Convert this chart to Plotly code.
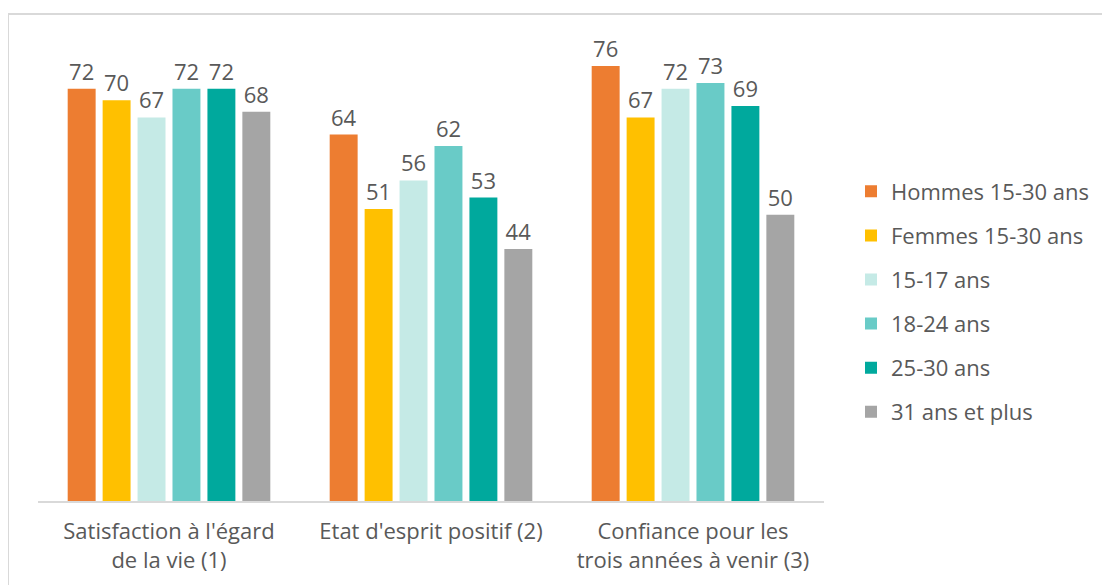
import plotly.graph_objects as go

categories = ["Satisfaction à l'égard<br>de la vie (1)", "Etat d'esprit positif (2)", "Confiance pour les<br>trois années à venir (3)"]
series_names = ["Hommes 15-30 ans", "Femmes 15-30 ans", "15-17 ans", "18-24 ans", "25-30 ans", "31 ans et plus"]
hommes = [72, 64, 76]
femmes = [70, 51, 67]
age_15_17 = [67, 56, 72]
age_18_24 = [72, 62, 73]
age_25_30 = [72, 53, 69]
age_31_plus = [68, 44, 50]
colors = ["#ED7D31", "#FFC000", "#C5EAE6", "#69CBC7", "#00A99D", "#A5A5A5"]

values = [hommes, femmes, age_15_17, age_18_24, age_25_30, age_31_plus]
font_family = "'Open Sans', sans-serif"
text_color = "#595959"
fs = 22

fig = go.Figure()
for i, (name, vals, col) in enumerate(zip(series_names, values, colors)):
    fig.add_trace(go.Bar(
        x=categories, y=vals, name=name, marker_color=col,
        marker_line_width=0,
        text=[str(v) for v in vals], textposition="outside",
        textfont=dict(size=fs, color=text_color, family=font_family),
        cliponaxis=False, legendgroup=f"g{i}",
    ))

# page has an 8px body offset: figure coords = reference coords - 8
W, H = 1110, 585
l, t = 30, 35
pw, ph = 786, 458
r = W - l - pw
b = H - t - ph

fig.update_layout(
    width=W, height=H,
    margin=dict(l=l, r=r, t=t, b=b, autoexpand=False),
    paper_bgcolor="white", plot_bgcolor="white",
    barmode="group", bargap=0.2, bargroupgap=0.2,
    font=dict(family=font_family, color=text_color, size=fs),
    xaxis=dict(showline=True, linecolor="#D9D9D9", linewidth=2, ticks="",
               tickfont=dict(size=fs, color=text_color), ticklabelstandoff=10),
    yaxis=dict(range=[0, 80], visible=False),
    legend=dict(x=(843 - l) / pw, y=(493 - 294) / ph, xanchor="left", yanchor="middle",
                font=dict(size=fs, color=text_color), tracegroupgap=12.5,
                itemwidth=30),
)
fig.add_shape(type="rect", xref="paper", yref="paper",
              x0=(0 - l) / pw, x1=1.6, y0=-0.6, y1=(493 - 6) / ph,
              line=dict(color="#D9D9D9", width=2), fillcolor="rgba(0,0,0,0)")

fig.write_html("out.html")
